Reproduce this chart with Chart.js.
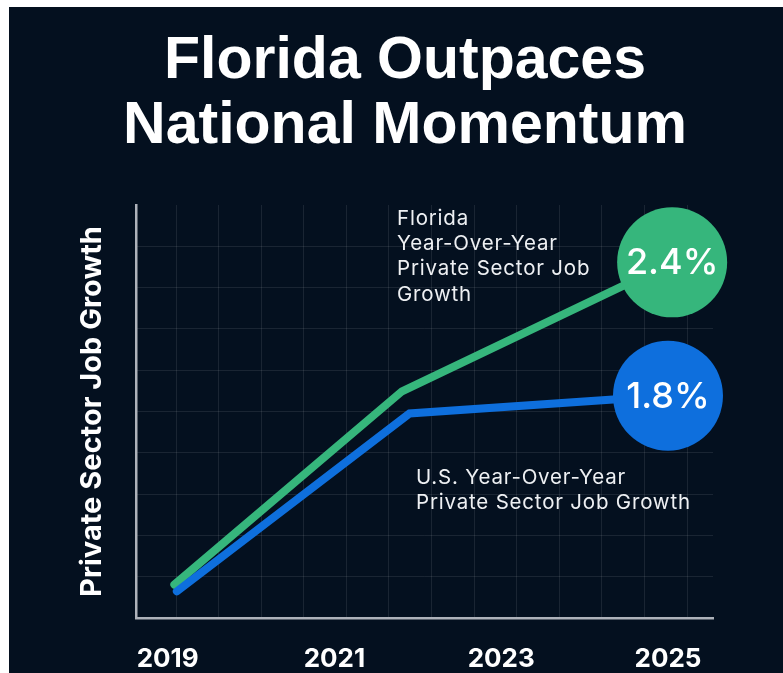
<!DOCTYPE html>
<html>
<head>
<meta charset="utf-8">
<script src="https://cdn.jsdelivr.net/npm/chart.js@4.4.1/dist/chart.umd.min.js"></script>
<style>
    html, body { margin: 0; padding: 0; background: #ffffff; }
    #wrap {
        position: absolute; left: 9px; top: 7px;
        width: 774px; height: 666px;
        background: #04101f;
    }
</style>
</head>
<body>
<div id="wrap"><canvas id="growthChart" width="774" height="666"></canvas></div>
<script>
// Year-over-year private sector job growth (%)
const floridaYears = [2019.08, 2021.81, 2025.05];
const floridaGrowth = [0.95, 1.82, 2.4];
const usYears = [2019.11, 2021.9, 2025];
const usGrowth = [0.92, 1.72, 1.8];

const yearTicks = [2019, 2021, 2023, 2025];

// background grid columns / rows
const gridCols = [0, 1, 2, 3, 4, 5, 6, 7, 8, 9, 10, 11, 12];
const gridRows = [1, 2, 3, 4, 5, 6, 7, 8, 9];

const floridaLabel = ['Florida', 'Year-Over-Year', 'Private Sector Job', 'Growth'];
const usLabel = ['U.S. Year-Over-Year', 'Private Sector Job Growth'];

const GREEN = '#36b67c';
const BLUE = '#0e6fdd';

const toPoints = (xs, ys) => xs.map((x, i) => ({ x, y: ys[i] }));
const bubbleRadius = (arr) => arr.map((_, i) => i === arr.length - 1 ? 55 : 0);

// percentages inside the end bubbles + the two series captions
const calloutPlugin = {
    id: 'callouts',
    afterDatasetsDraw(chart) {
        const ctx = chart.ctx;
        ctx.save();
        ctx.fillStyle = '#ffffff';
        ctx.textAlign = 'center';
        ctx.textBaseline = 'middle';
        ctx.font = '500 36px Inter';
        chart.data.datasets.forEach((ds, i) => {
            const meta = chart.getDatasetMeta(i);
            const last = meta.data[meta.data.length - 1];
            const v = ds.data[ds.data.length - 1].y;
            ctx.fillText(v.toFixed(1) + '%', last.x, last.y + 1);
        });

        ctx.fillStyle = '#eef0f3';
        ctx.textAlign = 'left';
        ctx.textBaseline = 'alphabetic';
        ctx.font = '400 20.5px Inter';
        ctx.letterSpacing = '0.8px';
        floridaLabel.forEach((t, i) => ctx.fillText(t, 388, 218 + i * 25.2));
        usLabel.forEach((t, i) => ctx.fillText(t, 407, 477 + i * 25));
        ctx.restore();
    }
};

const ctx = document.getElementById('growthChart').getContext('2d');
new Chart(ctx, {
    type: 'line',
    data: {
        datasets: [
            {
                label: 'Florida',
                data: toPoints(floridaYears, floridaGrowth),
                borderColor: GREEN,
                backgroundColor: GREEN,
                pointBackgroundColor: GREEN,
                pointRadius: bubbleRadius(floridaGrowth),
                order: 2,
            },
            {
                label: 'U.S.',
                data: toPoints(usYears, usGrowth),
                borderColor: BLUE,
                backgroundColor: BLUE,
                pointBackgroundColor: BLUE,
                pointRadius: bubbleRadius(usGrowth),
                order: 1,
            }
        ]
    },
    options: {
        responsive: false,
        animation: false,
        layout: { padding: { left: 18, right: 0, top: 0, bottom: 0 } },
        elements: {
            line: { borderWidth: 8, tension: 0, borderCapStyle: 'round', borderJoinStyle: 'miter' },
            point: { borderWidth: 0, hoverRadius: 55 }
        },
        datasets: { line: { clip: false } },
        plugins: {
            legend: { display: false },
            tooltip: { enabled: false },
            title: {
                display: true,
                text: ['Florida Outpaces', 'National Momentum'],
                color: '#ffffff',
                font: { family: 'Liberation Sans', size: 59, weight: 'bold', lineHeight: 65 / 59 },
                padding: { top: 22, bottom: 46 }
            }
        },
        scales: {
            x: {
                type: 'linear',
                position: 'bottom',
                min: 2018.62,
                max: 2025.54,
                afterBuildTicks: (axis) => { axis.ticks = yearTicks.map(v => ({ value: v })); },
                afterFit: (axis) => { axis.height = 50; },
                grid: { display: false, drawTicks: false },
                border: { display: true, color: '#aeb2ba', width: 2.5 },
                ticks: {
                    color: '#ffffff',
                    padding: 26,
                    maxRotation: 0,
                    autoSkip: false,
                    font: { family: 'Inter', size: 26, weight: 'bold' },
                    callback: (v) => String(v)
                }
            },
            y: {
                type: 'linear',
                position: 'left',
                min: 0.8,
                max: 2.658,
                afterFit: (axis) => { axis.width = 109; },
                grid: { display: false, drawTicks: false },
                border: { display: true, color: '#aeb2ba', width: 2.5 },
                ticks: { display: false },
                title: {
                    display: true,
                    text: 'Private Sector Job Growth',
                    color: '#ffffff',
                    font: { family: 'Inter', size: 29, weight: 'bold' },
                    padding: { top: 48, bottom: 0 }
                }
            },
            gx: {
                type: 'linear',
                position: 'top',
                min: -0.94,
                max: 12.61,
                afterBuildTicks: (axis) => { axis.ticks = gridCols.map(v => ({ value: v })); },
                afterFit: (axis) => { axis.height = 0; },
                grid: { color: 'rgba(255,255,255,0.09)', lineWidth: 1, drawTicks: false },
                border: { display: false },
                ticks: { display: false }
            },
            gy: {
                type: 'linear',
                position: 'right',
                min: 0,
                max: 10,
                afterBuildTicks: (axis) => { axis.ticks = gridRows.map(v => ({ value: v })); },
                afterFit: (axis) => { axis.width = 70; },
                grid: { color: 'rgba(255,255,255,0.09)', lineWidth: 1, drawTicks: false },
                border: { display: false },
                ticks: { display: false }
            }
        }
    },
    plugins: [calloutPlugin]
});
</script>
</body>
</html>
